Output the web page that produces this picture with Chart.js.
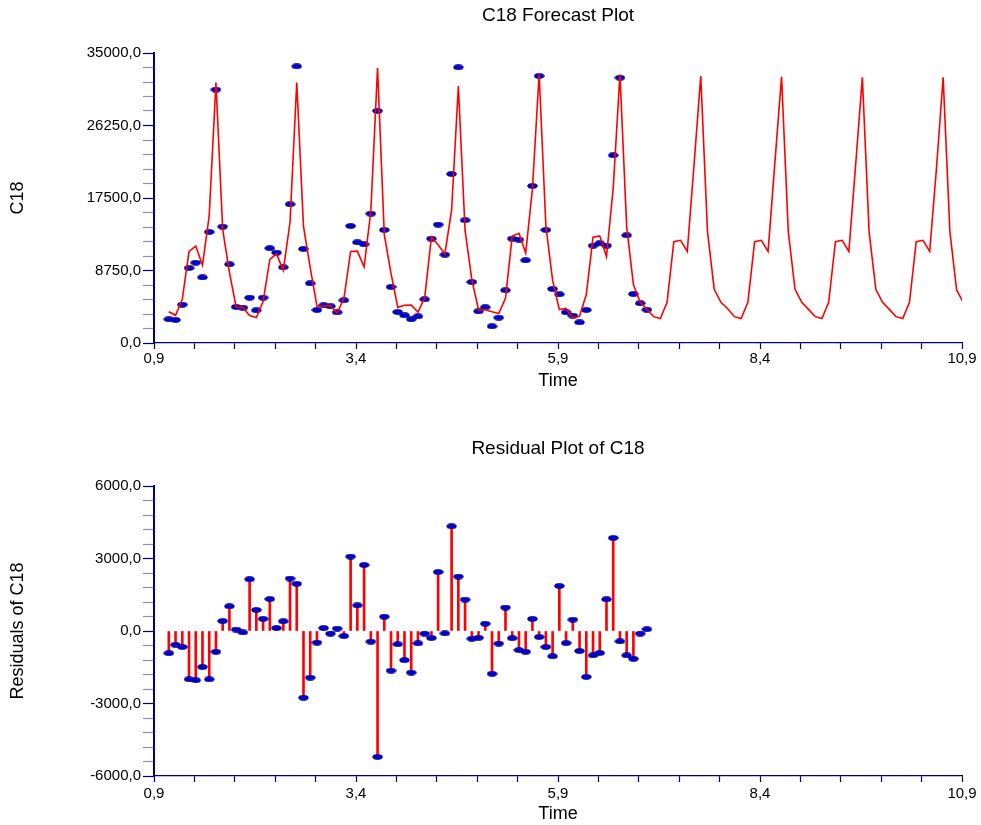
<!DOCTYPE html>
<html>
<head>
<meta charset="utf-8">
<title>C18 Forecast Plot</title>
<script src="https://cdn.jsdelivr.net/npm/chart.js@4"></script>
<style>
  html, body { margin: 0; padding: 0; background: #fff; }
  #wrap { position: relative; width: 981px; height: 825px; }
  canvas { position: absolute; left: 0; }
  #forecast { top: 0; }
  #residual { top: 412px; }
</style>
</head>
<body>
<div id="wrap">
  <canvas id="forecast" width="981" height="412"></canvas>
  <canvas id="residual" width="981" height="413"></canvas>
</div>
<script>
// monthly observations, the first one sits at t = 1 + 1/12
const actual = [
  2860, 2780, 4630, 9050, 9700, 7920, 13400, 30580, 14040, 9490, 4350, 4260,
  5470, 3940, 5470, 11430, 10900, 9130, 16740, 33390, 11350, 7200, 3980, 4550,
  4430, 3700, 5150, 14120, 12150, 11910, 15610, 28000, 13640, 6760, 3740, 3340,
  2860, 3220, 5270, 12590, 14280, 10660, 20400, 33270, 14810, 7360, 3820, 4310,
  2010, 3060, 6360, 12590, 12470, 9980, 18950, 32220, 13640, 6520, 5870, 3700,
  3300, 2490, 3980, 11750, 12030, 11750, 22650, 32020, 12990, 5910, 4790, 4020
];

const fitted = [
  3780, 3340, 5280, 11060, 11700, 9410, 15380, 31440, 13700, 8520, 4350, 4300,
  3320, 3070, 5000, 10100, 10760, 8760, 14570, 31450, 14080, 9100, 4430, 4460,
  4500, 3600, 5370, 11050, 11080, 9175, 15900, 33200, 13080, 8400, 4300, 4550,
  4570, 3720, 5450, 12800, 11860, 10750, 16060, 31000, 13550, 7650, 4000, 4010,
  3770, 3560, 5390, 12900, 13250, 10850, 18600, 32470, 14100, 7550, 4030, 4190,
  3000, 3250, 5850, 12780, 12930, 10430, 18700, 32420, 14020, 7040, 4950, 4050
];

const forecast = [
  3180, 2940, 4910, 12230, 12390, 11060, 21480, 32220, 13440, 6480, 4910, 4140,
  3180, 2940, 4910, 12230, 12390, 11060, 21680, 32140, 13440, 6480, 4910, 4060,
  3180, 2940, 4910, 12230, 12390, 11060, 21480, 32060, 13440, 6480, 4910, 4060,
  3180, 2940, 4910, 12230, 12390, 11060, 21000, 32060, 13440, 6400, 4870
];

const residuals = [
  -920, -570, -660, -2000, -2040, -1490, -2000, -860, 410, 1020, 60, -60,
  2140, 870, 500, 1320, 120, 400, 2170, 1950, -2760, -1930, -480, 120,
  -110, 100, -210, 3080, 1060, 2730, -440, -5210, 590, -1640, -550, -1210,
  -1720, -510, -110, -290, 2440, -100, 4330, 2250, 1300, -320, -280, 300,
  -1770, -520, 970, -300, -790, -860, 500, -250, -660, -1050, 1860, -500,
  470, -830, -1900, -1010, -910, 1310, 3850, -430, -1010, -1150, -110, 70
];

const xMajor = [0.9, 3.4, 5.9, 8.4, 10.9];
const forecastMajor = [0, 8750, 17500, 26250, 35000];
const residualMajor = [-6000, -3000, 0, 3000, 6000];

const NAVY = "#000080";
const LIGHT = "#8c8cc8";
const RED = "#ff0000";

Chart.defaults.font.family = "'Liberation Sans', Arial, sans-serif";
Chart.defaults.color = "#000";

const monthTime = i => 1 + (i + 1) / 12;

// every major step is split in 5 minor ones
function withMinor(major) {
  const step = (major[1] - major[0]) / 5;
  const out = [];
  for (let k = 0; k <= (major.length - 1) * 5; k++) {
    out.push(+(major[0] + k * step).toFixed(3));
  }
  return out;
}

function isMajor(list, v) {
  return list.some(m => Math.abs(m - v) < 1e-6);
}

const fmt = v => v.toFixed(1).replace(".", ",");

function ellipseMarker() {
  const c = document.createElement("canvas");
  c.width = 11;
  c.height = 6;
  const g = c.getContext("2d");
  g.beginPath();
  g.ellipse(5.5, 3, 4.8, 2.4, 0, 0, Math.PI * 2);
  g.fillStyle = "#0000d0";
  g.fill();
  g.lineWidth = 0.8;
  g.strokeStyle = NAVY;
  g.stroke();
  return c;
}
const marker = ellipseMarker();

function xScale(height, labelPad, titlePad) {
  const ticks = withMinor(xMajor);
  return {
    type: "linear",
    min: 0.9,
    max: 10.9,
    offset: false,
    afterBuildTicks: s => { s.ticks = ticks.map(v => ({ value: v })); },
    afterFit: s => { s.height = height; },
    ticks: {
      autoSkip: false,
      maxRotation: 0,
      padding: labelPad,
      font: { size: 15 },
      callback: v => isMajor(xMajor, v) ? fmt(v) : ""
    },
    grid: {
      offset: false,
      drawOnChartArea: false,
      tickLength: 6,
      tickColor: NAVY,
      tickWidth: 1.2
    },
    border: { color: NAVY, width: 1.2 },
    title: {
      display: true,
      text: "Time",
      font: { size: 18 },
      padding: { top: 0, bottom: titlePad }
    }
  };
}

function yScale(major, label) {
  const ticks = withMinor(major);
  return {
    type: "linear",
    min: major[0],
    max: major[major.length - 1],
    afterBuildTicks: s => { s.ticks = ticks.map(v => ({ value: v })); },
    afterFit: s => { s.width = 154; },
    ticks: {
      autoSkip: false,
      padding: 2,
      font: { size: 15 },
      callback: v => isMajor(major, v) ? fmt(v) : ""
    },
    grid: {
      drawOnChartArea: false,
      tickLength: 11,
      tickWidth: 1.2,
      tickColor: ctx => isMajor(major, ctx.tick.value) ? NAVY : LIGHT
    },
    border: { color: NAVY, width: 2 },
    title: {
      display: true,
      text: label,
      font: { size: 18 },
      padding: { top: 7.5, bottom: 0 }
    }
  };
}

function titleOpts(text, top, bottom) {
  return {
    display: true,
    text,
    fullSize: false,
    color: "#000",
    font: { size: 19, weight: "normal" },
    padding: { top, bottom }
  };
}

new Chart(document.getElementById("forecast"), {
  type: "line",
  data: {
    datasets: [
      {
        data: fitted.concat(forecast).map((v, i) => ({ x: monthTime(i), y: v })),
        borderColor: RED,
        borderWidth: 1.6,
        pointRadius: 0,
        tension: 0,
        order: 0
      },
      {
        data: actual.map((v, i) => ({ x: monthTime(i), y: v })),
        showLine: false,
        pointStyle: marker,
        pointRadius: 4,
        order: 1
      }
    ]
  },
  options: {
    responsive: false,
    animation: false,
    layout: { padding: { left: 0, right: 19, top: 0, bottom: 0 } },
    plugins: {
      legend: { display: false },
      tooltip: { enabled: false },
      title: titleOpts("C18 Forecast Plot", 4.6, 25.6)
    },
    scales: {
      x: xScale(69, 1, 20),
      y: yScale(forecastMajor, "C18")
    }
  }
});

new Chart(document.getElementById("residual"), {
  type: "bar",
  data: {
    datasets: [
      {
        type: "line",
        data: residuals.map((v, i) => ({ x: monthTime(i), y: v })),
        showLine: false,
        pointStyle: marker,
        pointRadius: 4,
        order: 0
      },
      {
        type: "bar",
        data: residuals.map((v, i) => ({ x: monthTime(i), y: v })),
        backgroundColor: RED,
        borderWidth: 0,
        barThickness: 2,
        order: 1
      }
    ]
  },
  options: {
    responsive: false,
    animation: false,
    layout: { padding: { left: 0, right: 19, top: 0, bottom: 0 } },
    plugins: {
      legend: { display: false },
      tooltip: { enabled: false },
      title: titleOpts("Residual Plot of C18", 25.6, 25.6)
    },
    scales: {
      x: xScale(49, 2.5, 0),
      y: yScale(residualMajor, "Residuals of C18")
    }
  }
});
</script>
</body>
</html>
